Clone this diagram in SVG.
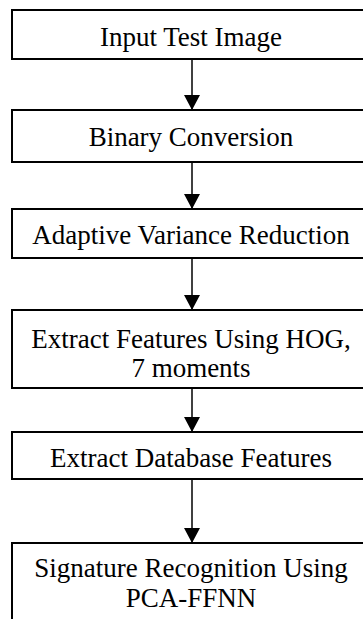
<svg xmlns="http://www.w3.org/2000/svg" width="363" height="619" viewBox="0 0 363 619">
<style>
.box{fill:#fff;stroke:#000;stroke-width:2}
.t{font-family:'Liberation Serif','DejaVu Serif',serif;font-size:27px;fill:#000;text-anchor:middle}
.c{stroke:#000;stroke-width:1.5;fill:none}
</style>
<defs>
<marker id="ah" markerWidth="15" markerHeight="16" refX="15" refY="8" orient="auto" markerUnits="userSpaceOnUse">
<path d="M0,0 L15,8 L0,16 Z" fill="#000"/>
</marker>
</defs>
<rect width="363" height="619" fill="#fff"/>
<g id="connectors">
<line class="c" x1="192" y1="59" x2="192" y2="110" marker-end="url(#ah)"/>
<line class="c" x1="192" y1="162" x2="192" y2="209" marker-end="url(#ah)"/>
<line class="c" x1="192" y1="258" x2="192" y2="310" marker-end="url(#ah)"/>
<line class="c" x1="192" y1="388" x2="192" y2="432" marker-end="url(#ah)"/>
<line class="c" x1="192" y1="479" x2="192" y2="543" marker-end="url(#ah)"/>
</g>
<g id="n1"><rect class="box" x="12" y="10" width="358" height="49"/><text class="t" x="191" y="45.5">Input Test Image</text></g>
<g id="n2"><rect class="box" x="12" y="110" width="358" height="52"/><text class="t" x="191" y="145.5">Binary Conversion</text></g>
<g id="n3"><rect class="box" x="12" y="209" width="358" height="49"/><text class="t" x="191" y="243.5">Adaptive Variance Reduction</text></g>
<g id="n4"><rect class="box" x="12" y="310" width="358" height="78"/><text class="t" x="191" y="348">Extract Features Using HOG,</text><text class="t" x="191" y="377">7 moments</text></g>
<g id="n5"><rect class="box" x="12" y="432" width="358" height="47"/><text class="t" x="191" y="467">Extract Database Features</text></g>
<g id="n6"><rect class="box" x="12" y="543" width="358" height="100"/><text class="t" x="191" y="577">Signature Recognition Using</text><text class="t" x="191" y="607">PCA-FFNN</text></g>
</svg>
